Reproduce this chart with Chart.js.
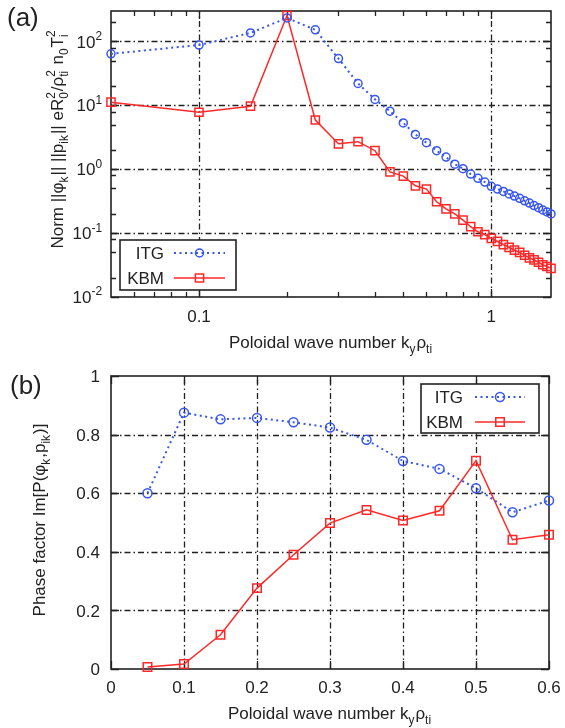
<!DOCTYPE html>
<html>
<head>
<meta charset="utf-8">
<script src="https://cdn.jsdelivr.net/npm/chart.js@4.4.0/dist/chart.umd.min.js"></script>
<style>
  html, body { margin: 0; padding: 0; background: #fff; }
  #wrap { position: relative; width: 565px; height: 728px; }
  canvas { position: absolute; left: 0; }
  #chart-a { top: 0; }
  #chart-b { top: 364px; }
</style>
</head>
<body>
<div id="wrap">
  <canvas id="chart-a" width="565" height="364"></canvas>
  <canvas id="chart-b" width="565" height="364"></canvas>
</div>
<script>
// (a) norms vs poloidal wave number, log-log
const kNorm = [0.05, 0.1, 0.15, 0.2, 0.25, 0.3, 0.35, 0.4, 0.45, 0.5, 0.55, 0.6, 0.65, 0.7, 0.75, 0.8,
               0.85, 0.9, 0.95, 1.0, 1.05, 1.1, 1.15, 1.2, 1.25, 1.3, 1.35, 1.4, 1.45, 1.5, 1.55, 1.6];
const itgNorm = [64, 88, 136, 234, 152, 54, 22, 12.4, 8.1, 5.3, 3.5, 2.6, 1.95, 1.55, 1.2, 1.02,
                 0.84, 0.72, 0.63, 0.54, 0.49, 0.45, 0.41, 0.38, 0.35, 0.32, 0.295, 0.27, 0.25, 0.23, 0.215, 0.2];
const kbmNorm = [11.2, 7.8, 9.7, 255, 5.9, 2.5, 2.7, 1.95, 0.91, 0.78, 0.55, 0.49, 0.31, 0.24, 0.2, 0.16,
                 0.126, 0.105, 0.095, 0.083, 0.074, 0.066, 0.06, 0.054, 0.05, 0.045, 0.041, 0.038, 0.035, 0.032, 0.03, 0.028];
const normTicks = [0.01, 0.1, 1, 10, 100];
const normTickExp = ['-2', '-1', '0', '1', '2'];
const kNormTicks = [0.1, 1];
const kNormTickLabels = ['0.1', '1'];

// (b) phase factor
const kPhase = [0.05, 0.1, 0.15, 0.2, 0.25, 0.3, 0.35, 0.4, 0.45, 0.5, 0.55, 0.6];
const itgPhase = [0.6, 0.875, 0.852, 0.857, 0.842, 0.824, 0.782, 0.71, 0.683, 0.617, 0.535, 0.575];
const kbmPhase = [0.007, 0.017, 0.117, 0.276, 0.39, 0.498, 0.543, 0.507, 0.54, 0.711, 0.441, 0.458];
const phaseTicks = [0, 0.2, 0.4, 0.6, 0.8, 1];
const phaseTickLabels = ['0', '0.2', '0.4', '0.6', '0.8', '1'];
const kPhaseTicks = [0, 0.1, 0.2, 0.3, 0.4, 0.5, 0.6];
const kPhaseTickLabels = ['0', '0.1', '0.2', '0.3', '0.4', '0.5', '0.6'];

const BLUE = 'rgb(55,85,240)';
const RED = 'rgb(255,40,40)';
const INK = '#222';
const FAMILY = '"Liberation Sans", Arial, sans-serif';
const font = (s) => s + 'px ' + FAMILY;

// text with sub/superscripts: strings are normal, {sub, sup} are small
function partWidth(ctx, p, size) {
    if (typeof p === 'string') {
        ctx.font = font(size);
        return ctx.measureText(p).width;
    }
    ctx.font = font(size * 0.7);
    const a = p.sub ? ctx.measureText(p.sub).width : 0;
    const b = p.sup ? ctx.measureText(p.sup).width : 0;
    return Math.max(a, b) + 1;
}

function drawRich(ctx, parts, x, y, size, align) {
    let w = 0;
    parts.forEach(p => { w += partWidth(ctx, p, size); });
    let cx = align === 'center' ? x - w / 2 : align === 'right' ? x - w : x;
    const base = y + size * 0.36;
    ctx.textAlign = 'left';
    ctx.textBaseline = 'alphabetic';
    parts.forEach(p => {
        const pw = partWidth(ctx, p, size);
        if (typeof p === 'string') {
            ctx.font = font(size);
            ctx.fillText(p, cx, base);
        } else {
            ctx.font = font(size * 0.7);
            if (p.sub) ctx.fillText(p.sub, cx, base + size * 0.28);
            if (p.sup) ctx.fillText(p.sup, cx, base - size * 0.45);
        }
        cx += pw;
    });
}

function drawMarker(ctx, style, x, y, r, color) {
    ctx.save();
    ctx.strokeStyle = color;
    ctx.lineWidth = 1.5;
    ctx.setLineDash([]);
    ctx.beginPath();
    if (style === 'circle') {
        ctx.arc(x, y, r, 0, Math.PI * 2);
    } else {
        const s = r * Math.SQRT1_2;
        ctx.rect(x - s, y - s, 2 * s, 2 * s);
    }
    ctx.stroke();
    ctx.restore();
}

function logMinors(min, max, mults) {
    const out = [];
    for (let e = Math.floor(Math.log10(min)); e <= Math.ceil(Math.log10(max)); e++) {
        mults.forEach(m => {
            const v = m * Math.pow(10, e);
            if (v > min && v < max) out.push(v);
        });
    }
    return out;
}

function makeDecor(cfg) {
    return {
        id: 'decor' + cfg.name,
        beforeDatasetsDraw(chart) {
            const {ctx, chartArea: a, scales: {x, y}} = chart;
            ctx.save();
            // dash-dot grid at the major ticks
            ctx.strokeStyle = INK;
            ctx.lineWidth = 1.3;
            ctx.setLineDash([6, 3, 1.5, 3]);
            cfg.xMajor.forEach(v => {
                const px = Math.round(x.getPixelForValue(v)) + 0.5;
                if (px <= a.left + 1 || px >= a.right - 1) return;
                ctx.beginPath(); ctx.moveTo(px, a.bottom); ctx.lineTo(px, a.top); ctx.stroke();
            });
            cfg.yMajor.forEach(v => {
                const py = Math.round(y.getPixelForValue(v)) + 0.5;
                if (py <= a.top + 1 || py >= a.bottom - 1) return;
                ctx.beginPath(); ctx.moveTo(a.left, py); ctx.lineTo(a.right, py); ctx.stroke();
            });
            ctx.setLineDash([]);
            // inward ticks on all four sides
            ctx.lineWidth = 1.3;
            const tx = (v, len) => {
                const px = Math.round(x.getPixelForValue(v)) + 0.5;
                ctx.beginPath();
                ctx.moveTo(px, a.bottom); ctx.lineTo(px, a.bottom - len);
                ctx.moveTo(px, a.top); ctx.lineTo(px, a.top + len);
                ctx.stroke();
            };
            const ty = (v, len) => {
                const py = Math.round(y.getPixelForValue(v)) + 0.5;
                ctx.beginPath();
                ctx.moveTo(a.left, py); ctx.lineTo(a.left + len, py);
                ctx.moveTo(a.right, py); ctx.lineTo(a.right - len, py);
                ctx.stroke();
            };
            cfg.xMajor.forEach(v => tx(v, 8));
            cfg.yMajor.forEach(v => ty(v, 8));
            cfg.xMinor.forEach(v => tx(v, 5));
            cfg.yMinor.forEach(v => ty(v, 5));
            // frame
            ctx.lineWidth = 1.6;
            ctx.strokeRect(a.left, a.top, a.right - a.left, a.bottom - a.top);
            ctx.restore();
        },
        afterDatasetsDraw(chart) {
            const {ctx, chartArea: a, scales: {x, y}} = chart;
            ctx.save();
            ctx.fillStyle = INK;
            // panel label
            ctx.font = font(26);
            ctx.textAlign = 'left';
            ctx.textBaseline = 'middle';
            ctx.fillText(cfg.panel, cfg.panelX, cfg.panelY);
            // tick labels
            cfg.yMajor.forEach((v, i) => {
                drawRich(ctx, cfg.yLabel(i), cfg.yLabelX, y.getPixelForValue(v), 17, 'right');
            });
            cfg.xMajor.forEach((v, i) => {
                drawRich(ctx, [cfg.xLabels[i]], x.getPixelForValue(v), cfg.xLabelY, 17, 'center');
            });
            // axis titles
            drawRich(ctx, cfg.xTitle, (a.left + a.right) / 2, cfg.xTitleY, 17, 'center');
            ctx.save();
            ctx.translate(cfg.yTitleX, cfg.yTitleY);
            ctx.rotate(-Math.PI / 2);
            drawRich(ctx, cfg.yTitle, 0, 0, 17, 'center');
            ctx.restore();
            // legend
            const L = cfg.legend;
            ctx.fillStyle = '#fff';
            ctx.fillRect(L.x, L.y, L.w, L.h);
            ctx.strokeStyle = INK;
            ctx.lineWidth = 1.6;
            ctx.strokeRect(L.x, L.y, L.w, L.h);
            L.rows.forEach(r => {
                ctx.fillStyle = INK;
                drawRich(ctx, [r.label], L.textRight, r.y, 17, 'right');
                ctx.strokeStyle = r.color;
                ctx.lineWidth = r.width;
                ctx.setLineDash(r.dash);
                ctx.beginPath(); ctx.moveTo(L.lineFrom, r.y); ctx.lineTo(L.lineTo, r.y); ctx.stroke();
                ctx.setLineDash([]);
                drawMarker(ctx, r.style, (L.lineFrom + L.lineTo) / 2, r.y, r.r, r.color);
            });
            ctx.restore();
        }
    };
}

const xTitle = ['Poloidal wave number k', {sub: 'y'}, 'ρ', {sub: 'ti'}];

function series(xs, ys) {
    return xs.map((k, i) => ({x: k, y: ys[i]}));
}

function itgSet(data, r) {
    return {
        label: 'ITG', data: data, borderColor: BLUE, borderWidth: 2, borderDash: [2, 3.5],
        pointStyle: 'circle', pointRadius: r, pointBorderWidth: 1.5,
        pointBorderColor: BLUE, pointBackgroundColor: 'rgba(0,0,0,0)', clip: false
    };
}
function kbmSet(data, r) {
    return {
        label: 'KBM', data: data, borderColor: RED, borderWidth: 1.5,
        pointStyle: 'rect', pointRadius: r, pointBorderWidth: 1.5,
        pointBorderColor: RED, pointBackgroundColor: 'rgba(0,0,0,0)', clip: false
    };
}

const baseOptions = (padding, xs, ys) => ({
    responsive: false,
    animation: false,
    layout: {padding: padding},
    plugins: {legend: {display: false}, tooltip: {enabled: false}},
    scales: {x: Object.assign({display: false}, xs), y: Object.assign({display: false}, ys)}
});

new Chart(document.getElementById('chart-a').getContext('2d'), {
    type: 'scatter',
    data: {
        datasets: [
            Object.assign(itgSet(series(kNorm, itgNorm), 4), {showLine: true}),
            Object.assign(kbmSet(series(kNorm, kbmNorm), 5.8), {showLine: true})
        ]
    },
    options: baseOptions({left: 111, top: 11, right: 14, bottom: 67},
        {type: 'logarithmic', min: 0.05, max: 1.6},
        {type: 'logarithmic', min: 0.01, max: 300}),
    plugins: [makeDecor({
        name: 'A', panel: '(a)', panelX: 7, panelY: 19,
        xMajor: kNormTicks, xLabels: kNormTickLabels, xLabelY: 316,
        xMinor: logMinors(0.05, 1.6, [2, 3, 4, 5, 6, 7, 8, 9]),
        yMajor: normTicks, yMinor: logMinors(0.01, 300, [2, 5, 8]),
        yLabel: (i) => ['10', {sup: normTickExp[i]}], yLabelX: 103,
        xTitle: xTitle, xTitleY: 342,
        yTitle: ['Norm ||φ', {sub: 'k'}, '|| ||p', {sub: 'ik'}, '|| eR', {sub: '0', sup: '2'},
                 '/ρ', {sub: 'ti', sup: '2'}, ' n', {sub: '0'}, 'T', {sub: 'i', sup: '2'}],
        yTitleX: 57, yTitleY: 139,
        legend: {
            x: 120, y: 240, w: 116, h: 50, textRight: 164, lineFrom: 174, lineTo: 225,
            rows: [
                {label: 'ITG', y: 253, color: BLUE, width: 2, dash: [2, 3.5], style: 'circle', r: 4},
                {label: 'KBM', y: 278, color: RED, width: 1.5, dash: [], style: 'rect', r: 5.8}
            ]
        }
    })]
});

new Chart(document.getElementById('chart-b').getContext('2d'), {
    type: 'scatter',
    data: {
        datasets: [
            Object.assign(itgSet(series(kPhase, itgPhase), 4.5), {showLine: true}),
            Object.assign(kbmSet(series(kPhase, kbmPhase), 6), {showLine: true})
        ]
    },
    options: baseOptions({left: 111, top: 12, right: 16, bottom: 59},
        {type: 'linear', min: 0, max: 0.6},
        {type: 'linear', min: 0, max: 1}),
    plugins: [makeDecor({
        name: 'B', panel: '(b)', panelX: 10, panelY: 23,
        xMajor: kPhaseTicks, xLabels: kPhaseTickLabels, xLabelY: 323,
        xMinor: [], yMajor: phaseTicks, yMinor: [],
        yLabel: (i) => [phaseTickLabels[i]], yLabelX: 100,
        xTitle: xTitle, xTitleY: 349,
        yTitle: ['Phase factor Im[P(φ', {sub: 'k'}, ',p', {sub: 'ik'}, ')]'],
        yTitleX: 39, yTitleY: 156,
        legend: {
            x: 421, y: 20, w: 118, h: 49, textRight: 463, lineFrom: 475, lineTo: 525,
            rows: [
                {label: 'ITG', y: 33, color: BLUE, width: 2, dash: [2, 3.5], style: 'circle', r: 4.5},
                {label: 'KBM', y: 58, color: RED, width: 1.5, dash: [], style: 'rect', r: 6}
            ]
        }
    })]
});
</script>
</body>
</html>
